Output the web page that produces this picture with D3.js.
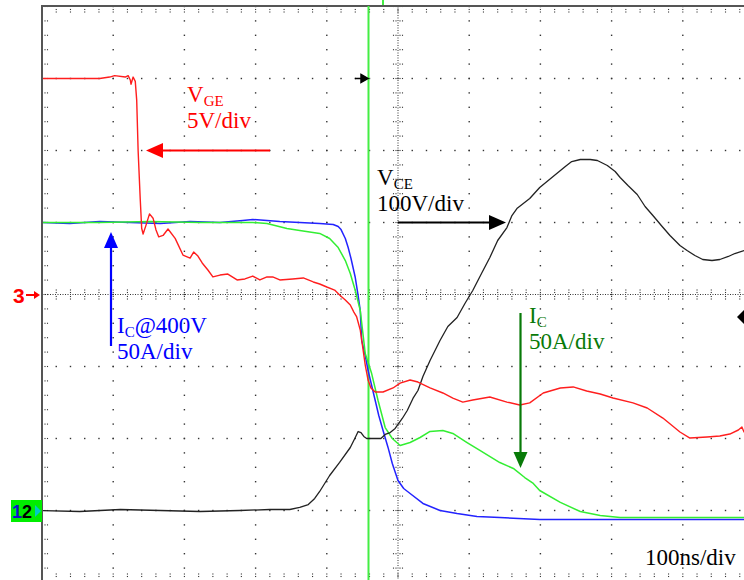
<!DOCTYPE html>
<html><head><meta charset="utf-8">
<script src="https://cdn.jsdelivr.net/npm/d3@7"></script>
<style>html,body{margin:0;padding:0;background:#fff;}svg{display:block;}</style>
</head><body>
<svg id="c" width="744" height="580"></svg>
<script>
// ---- Data (time in ns relative to screen centre, 100 ns/div) ----
// V_GE (5 V/div, ground at channel-3 marker = centre line)
const vgeT = [-500,-475,-447,-419,-405,-398,-383,-379,-376,-375,-372,-369,-367,-365,-362,-360,-358,-354,-349,-344,-340,-336,-330,-323,-313,-302,-292,-287,-281,-275,-267,-260,-250,-239,-226,-215,-204,-194,-184,-176,-166,-148,-133,-119,-110,-100,-89,-82,-74,-67,-62,-58,-53,-51,-46,-42,-38,-32,-21,-7,3,17,28,45,63,77,91,105,129,153,171,185,204,228,246,265,284,302,330,350,372,396,410,434,452,466,478,483,486,505];
const vgeV = [15.0,15.0,15.0,15.0,15.1,15.2,15.1,15.2,14.9,14.6,15.1,14.8,13.5,10.0,6.6,4.6,4.2,4.8,5.6,5.3,4.5,4.0,4.1,4.55,3.9,2.74,2.53,2.95,2.67,2.19,1.70,1.22,1.35,1.42,1.01,1.08,1.28,1.01,1.22,1.22,1.01,1.08,1.15,0.87,0.73,0.52,0.31,-0.03,-0.38,-0.73,-1.22,-1.56,-2.47,-3.16,-4.9,-5.94,-6.49,-6.77,-6.77,-6.49,-6.15,-5.94,-6.08,-6.49,-6.84,-7.19,-7.47,-7.33,-7.12,-7.47,-7.67,-7.53,-6.84,-6.49,-6.42,-6.70,-6.91,-7.19,-7.53,-7.88,-8.58,-9.55,-9.97,-9.90,-9.83,-9.69,-9.41,-9.20,-9.55,-9.3];
// V_CE (100 V/div, ground at channel-1/2 marker)
const vceT = [-500,-447,-390,-334,-278,-222,-180,-152,-138,-126,-117,-110,-96,-82,-67,-60,-56,-52,-48,-44,-32,-24,-18,-11,-4,6,13,21,28,35,45,59,70,83,94,105,118,129,140,153,160,167,176,185,199,211,223,235,244,256,270,280,294,305,312,323,336,347,358,371,382,396,406,417,428,441,452,464,473,486,505];
const vceV = [0,-1.4,1.4,0,-1.4,0,1.4,1.4,4.2,8.3,16.7,26.4,48.6,66.7,87.5,101.4,109.7,108.3,102.8,100,100,100,105.6,108.3,113.9,127.8,138.9,155.6,166.7,186.1,208.3,236.1,255.6,268.1,287.5,305.6,330.6,351.4,375,393,409.7,419.4,426.4,433.3,448.6,458.3,468,477.8,484.7,487.5,487.5,486.1,479.2,470.8,462.5,451.4,438.9,422.2,409.7,394.4,381.9,368.1,361.1,354.2,348.6,347.2,348.6,352.8,356.9,361.1,366];
// I_C @ 400 V (50 A/div, blue)
const icbT = [-500,-461,-419,-376,-334,-292,-250,-218,-204,-184,-166,-138,-110,-91,-84,-80,-74,-70,-66,-60,-56,-53,-51,-46,-42,-37,-32,-27,-21,-14,-8,0,8,17,35,59,83,111,143,199,284,396,505];
const icbA = [200,199.3,200.7,200,199.3,200.7,200,201.4,202.1,201.4,200.7,200,199.3,198.6,197.2,195.1,188.9,182.6,175,161.8,149.3,138.9,118.1,107.6,97.2,86.8,76.4,66,55.6,43.8,32.6,20.8,15.3,11.8,4.9,0,-2.1,-4.2,-4.9,-6.3,-6.3,-6.3,-6.3];
// I_C (50 A/div, green)
const icT = [-500,-419,-348,-278,-222,-204,-184,-156,-138,-110,-96,-84,-74,-67,-60,-53,-46,-37,-28,-18,-8,3,17,31,45,63,77,97,115,143,162,178,190,199,228,256,284,312,396,505];
const icA = [200,200,200.7,200,200,200,199.3,195.8,194.4,192.4,188.9,182.6,173.6,164.6,152.8,138.9,109,95.1,76.4,57.6,50,45.1,47.2,50.7,54.9,55.6,53.5,47.2,41.7,33.3,29.2,22.9,18.8,13.9,5.6,-0.7,-3.5,-4.9,-4.9,-4.9];

// channel scale (units per division) and ground offset (divisions from centre)
const chVGE = {perDiv: 5, offset: 0};
const chVCE = {perDiv: 100, offset: -3};
const chIC  = {perDiv: 50, offset: -3};

const W = 744, H = 580;
const svg = d3.select("#c");
const x = d3.scaleLinear().domain([-500, 500]).range([42, 754]);
const y = d3.scaleLinear().domain([-4, 4]).range([582.5, 6.5]);
const yCh = (ch) => (v) => y(v / ch.perDiv + ch.offset);

svg.append("rect").attr("width", W).attr("height", H).attr("fill", "#fff");
svg.append("defs").append("clipPath").attr("id", "clip")
  .append("rect").attr("x", 43).attr("y", 7).attr("width", W - 43).attr("height", H - 7);

const grid = svg.append("g").attr("fill", "#333");
const xMinor = d3.range(-500, 500.01, 20);   // 1/5 division steps
const yMinor = d3.range(-4, 4.001, 0.2);
const dot = (px, py, s) => grid.append("rect").attr("x", px - s / 2).attr("y", py - s / 2).attr("width", s).attr("height", s);
// major grid lines (dotted at minor steps)
d3.range(-400, 401, 100).filter(t => t !== 0).forEach(t => yMinor.forEach(d => dot(x(t), y(d), 1.4)));
d3.range(-3, 3.01, 1).filter(d => d !== 0).forEach(d => xMinor.forEach(t => dot(x(t), y(d), 1.4)));
// centre axes: dense dots with cross ticks
d3.range(43, 754, 2.5).forEach(px => dot(px, y(0), 1));
d3.range(8, 582, 2.5).forEach(py => dot(x(0), py, 1));
xMinor.forEach(t => [-4.5, -2, 2, 4.5].forEach(o => dot(x(t), y(0) + o, 1.1)));
yMinor.forEach(d => [-4.5, -2, 2, 4.5].forEach(o => dot(x(0) + o, y(d), 1.1)));
// border ticks
xMinor.forEach(t => { [9.5, 12].forEach(py => dot(x(t), py, 1.1)); [574, 576.5].forEach(py => dot(x(t), py, 1.1)); });
yMinor.forEach(d => [45, 47.5].forEach(px => dot(px, y(d), 1.1)));

// borders
svg.append("line").attr("x1", 42).attr("x2", 42).attr("y1", 5).attr("y2", H).attr("stroke", "#555").attr("stroke-width", 2);
svg.append("line").attr("x1", 41).attr("x2", W).attr("y1", 6).attr("y2", 6).attr("stroke", "#555").attr("stroke-width", 2);

// cursor line
svg.append("line").attr("x1", 368.5).attr("x2", 368.5).attr("y1", 6).attr("y2", H).attr("stroke", "#44ee44").attr("stroke-width", 2);
svg.append("rect").attr("x", 382).attr("y", 0).attr("width", 2).attr("height", 5).attr("fill", "#44ee44");

// traces
const plot = svg.append("g").attr("clip-path", "url(#clip)");
const drawTrace = (T, V, ch, color, w) => {
  const line = d3.line().x((d) => x(d[0])).y((d) => yCh(ch)(d[1]));
  plot.append("path").datum(d3.zip(T, V)).attr("d", line)
    .attr("fill", "none").attr("stroke", color).attr("stroke-width", w).attr("stroke-linejoin", "round");
};
drawTrace(icbT, icbA, chIC, "#2323ff", 1.5);
drawTrace(icT, icA, chIC, "#33ee33", 1.5);
drawTrace(vceT, vceV, chVCE, "#222", 1.3);
drawTrace(vgeT, vgeV, chVGE, "#ff1e1e", 1.4);

// markers
svg.append("path").attr("d", "M355,78.5 L361,78.5 M361,74.5 L368,78.5 L361,82.5 Z").attr("stroke", "#000").attr("stroke-width", 1.5).attr("fill", "#000");
plot.append("path").attr("d", "M737,317 L745,309 L753,317 L745,325 Z").attr("fill", "#000");
// channel 3 ground marker
svg.append("text").attr("x", 13).attr("y", 303).attr("fill", "#ff0000").attr("font-family", "Liberation Sans, Arial").attr("font-weight", "bold").attr("font-size", 21).text("3");
svg.append("line").attr("x1", 26).attr("x2", 35).attr("y1", 295).attr("y2", 295).attr("stroke", "#ff0000").attr("stroke-width", 2);
svg.append("path").attr("d", "M34,291 L40,295 L34,299 Z").attr("fill", "#ff0000");
// channel 1/2 ground marker
svg.append("rect").attr("x", 11).attr("y", 500).attr("width", 31).attr("height", 22).attr("fill", "#00ee00");
const m12 = svg.append("text").attr("x", 12).attr("y", 518).attr("font-family", "Liberation Sans, Arial").attr("font-weight", "bold").attr("font-size", 18);
m12.append("tspan").attr("fill", "#1010d0").text("1");
m12.append("tspan").attr("fill", "#000").text("2");
svg.append("path").attr("d", "M35,505 L41,511 L35,517 Z").attr("fill", "#00c8c8");

// annotation arrows
const arrowH = (x1, x2, yy, color) => {
  const dir = Math.sign(x2 - x1);
  svg.append("line").attr("x1", x1).attr("x2", x2 - dir * 14).attr("y1", yy).attr("y2", yy).attr("stroke", color).attr("stroke-width", 2.2);
  svg.append("path").attr("d", `M${x2},${yy} L${x2 - dir * 17},${yy - 7.5} L${x2 - dir * 17},${yy + 7.5} Z`).attr("fill", color);
};
const arrowV = (xx, y1, y2, color) => {
  const dir = Math.sign(y2 - y1);
  svg.append("line").attr("x1", xx).attr("x2", xx).attr("y1", y1).attr("y2", y2 - dir * 14).attr("stroke", color).attr("stroke-width", 2.2);
  svg.append("path").attr("d", `M${xx},${y2} L${xx - 7},${y2 - dir * 16} L${xx + 7},${y2 - dir * 16} Z`).attr("fill", color);
};
arrowH(270, 146, y(2), "#ff0000");
arrowH(x(0), 506, y(1), "#000");
arrowV(111, 346, 232, "#0000ff");
arrowV(520.5, 313, 468, "#087a08");

// labels
const label = (px, py, main, sub, rest, line2, color) => {
  const g = svg.append("g").attr("fill", color).attr("font-family", "Liberation Serif, Times New Roman, serif");
  const t = g.append("text").attr("x", px).attr("y", py).attr("font-size", 23);
  t.append("tspan").text(main);
  t.append("tspan").attr("font-size", 15).attr("dy", 4).text(sub);
  if (rest) t.append("tspan").attr("dy", -4).text(rest);
  g.append("text").attr("x", px).attr("y", py + 26).attr("font-size", 23).text(line2);
};
label(187, 102, "V", "GE", "", "5V/div", "#ff0000");
label(377, 185, "V", "CE", "", "100V/div", "#000");
label(117, 333, "I", "C", "@400V", "50A/div", "#0000ff");
label(529, 323, "I", "C", "", "50A/div", "#087a08");
svg.append("text").attr("x", 645).attr("y", 565).attr("font-family", "Liberation Serif, Times New Roman, serif").attr("font-size", 23).attr("fill", "#000").text("100ns/div");
</script>
</body></html>
